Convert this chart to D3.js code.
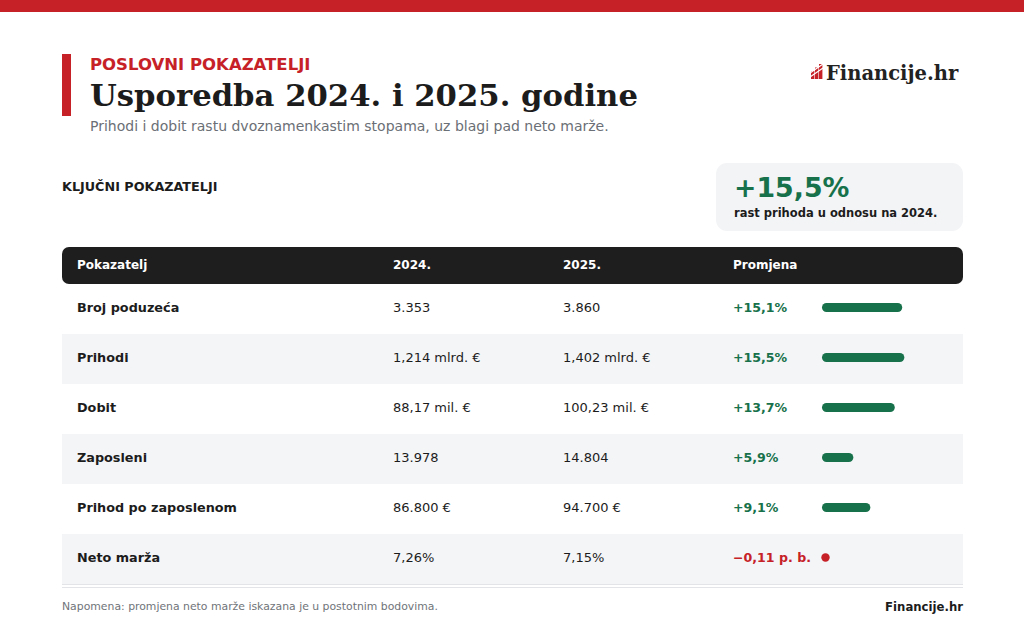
<!DOCTYPE html>
<html>
<head>
<meta charset="utf-8">
<script src="https://cdn.jsdelivr.net/npm/d3@7"></script>
<style>
  body { margin: 0; background: #fff; }
  svg { display: block; font-family: 'DejaVu Sans', sans-serif; }
</style>
</head>
<body>
<svg id="chart" width="1024" height="640"></svg>
<script>
// data
var indicators = ['Broj poduzeća', 'Prihodi', 'Dobit', 'Zaposleni', 'Prihod po zaposlenom', 'Neto marža'];
var values2024 = ['3.353', '1,214 mlrd. €', '88,17 mil. €', '13.978', '86.800 €', '7,26%'];
var values2025 = ['3.860', '1,402 mlrd. €', '100,23 mil. €', '14.804', '94.700 €', '7,15%'];
var changeLabels = ['+15,1%', '+15,5%', '+13,7%', '+5,9%', '+9,1%', '\u22120,11 p. b.'];
var changeValues = [15.1, 15.5, 13.7, 5.9, 9.1, -0.11];
var headers = ['Pokazatelj', '2024.', '2025.', 'Promjena'];

var red = '#c62127', green = '#17714a', dark = '#1c1c1c';

var svg = d3.select('#chart');

// top strip + accent
svg.append('rect').attr('x', 0).attr('y', 0).attr('width', 1024).attr('height', 12).attr('fill', red);
svg.append('rect').attr('x', 62).attr('y', 54).attr('width', 9).attr('height', 62).attr('fill', red);

svg.append('text').attr('x', 90).attr('y', 70)
	.attr('font-size', 16.5).attr('font-weight', 'bold').attr('fill', red)
	.text('POSLOVNI POKAZATELJI');
svg.append('text').attr('x', 90).attr('y', 106)
	.attr('font-family', 'DejaVu Serif, serif').attr('font-size', 30.7).attr('font-weight', 'bold').attr('fill', dark)
	.text('Usporedba 2024. i 2025. godine');
svg.append('text').attr('x', 90).attr('y', 131)
	.attr('font-size', 14).attr('fill', '#6b6f76')
	.text('Prihodi i dobit rastu dvoznamenkastim stopama, uz blagi pad neto marže.');

// logo
var logo = svg.append('g').attr('transform', 'translate(811,64)');
[[0, 7], [4, 3.5], [8, 0]].forEach(function(b) {
	logo.append('rect').attr('x', b[0]).attr('y', b[1]).attr('width', 3.4).attr('height', 15 - b[1]).attr('fill', red);
});
logo.append('path').attr('d', 'M-1 9 L12 0 M-1 13 L12 4').attr('stroke', '#fff').attr('stroke-width', 1.2);
svg.append('text').attr('x', 826).attr('y', 80)
	.attr('font-family', 'DejaVu Serif, serif').attr('font-size', 19.5).attr('font-weight', 'bold').attr('fill', '#222')
	.text('Financije.hr');

// section label
svg.append('text').attr('x', 62).attr('y', 191)
	.attr('font-size', 12.75).attr('font-weight', 'bold').attr('fill', dark)
	.text('KLJUČNI POKAZATELJI');

// KPI box
svg.append('rect').attr('x', 716).attr('y', 163).attr('width', 247).attr('height', 68).attr('rx', 11).attr('fill', '#f3f4f6');
svg.append('text').attr('x', 734).attr('y', 197)
	.attr('font-size', 26.8).attr('font-weight', 'bold').attr('fill', green)
	.text('+' + d3.format('.1f')(changeValues[1]).replace('.', ',') + '%');
svg.append('text').attr('x', 734).attr('y', 217)
	.attr('font-size', 11.5).attr('font-weight', 'bold').attr('fill', dark)
	.text('rast prihoda u odnosu na 2024.');

// table
var tableLeft = 62, tableRight = 963, headTop = 247, headH = 37, rowH = 50;
var colX = [77, 393, 563, 733];

svg.append('rect').attr('x', tableLeft).attr('y', headTop).attr('width', tableRight - tableLeft).attr('height', headH)
	.attr('rx', 7).attr('fill', '#1e1e1e');
svg.selectAll('.head').data(headers).enter().append('text')
	.attr('x', function(d, i) { return colX[i]; })
	.attr('y', headTop + 22)
	.attr('font-size', 12).attr('font-weight', 'bold').attr('fill', '#fff')
	.text(function(d) { return d; });

var yScale = d3.scaleBand().domain(indicators).range([headTop + headH, headTop + headH + rowH * indicators.length]);
var xBar = d3.scaleLinear().domain([0, 16]).range([0, 85]);

var rows = svg.selectAll('.row').data(indicators).enter().append('g')
	.attr('transform', function(d) { return 'translate(0,' + yScale(d) + ')'; });

rows.append('rect').attr('x', tableLeft).attr('width', tableRight - tableLeft).attr('height', yScale.bandwidth())
	.attr('fill', function(d, i) { return i % 2 ? '#f4f5f7' : '#fff'; });

var mid = yScale.bandwidth() / 2 + 2.5;
rows.append('text').attr('x', colX[0]).attr('y', mid)
	.attr('font-size', 12.8).attr('font-weight', 'bold').attr('fill', dark)
	.text(function(d) { return d; });
rows.append('text').attr('x', colX[1]).attr('y', mid)
	.attr('font-size', 13).attr('fill', dark)
	.text(function(d, i) { return values2024[i]; });
rows.append('text').attr('x', colX[2]).attr('y', mid)
	.attr('font-size', 13).attr('fill', dark)
	.text(function(d, i) { return values2025[i]; });
rows.append('text').attr('x', colX[3]).attr('y', mid)
	.attr('font-size', 12.6).attr('font-weight', 'bold')
	.attr('fill', function(d, i) { return changeValues[i] < 0 ? red : green; })
	.text(function(d, i) { return changeLabels[i]; });

rows.each(function(d, i) {
	var g = d3.select(this), v = changeValues[i], cy = yScale.bandwidth() / 2 - 1.5;
	if (v >= 0) {
		g.append('rect').attr('x', 822).attr('y', cy - 4.5).attr('width', xBar(v)).attr('height', 9)
			.attr('rx', 4.5).attr('fill', green);
	} else {
		g.append('circle').attr('cx', 825.5).attr('cy', cy).attr('r', 4.2).attr('fill', red);
	}
});

var tableBottom = yScale.range()[1];
svg.append('line').attr('x1', tableLeft).attr('x2', tableRight).attr('y1', tableBottom + 0.5).attr('y2', tableBottom + 0.5)
	.attr('stroke', '#e2e4e8');
svg.append('line').attr('x1', tableLeft).attr('x2', tableRight).attr('y1', tableBottom + 3.5).attr('y2', tableBottom + 3.5)
	.attr('stroke', '#e2e4e8');

// footer
svg.append('text').attr('x', 62).attr('y', 610)
	.attr('font-size', 10.85).attr('fill', '#707479')
	.text('Napomena: promjena neto marže iskazana je u postotnim bodovima.');
svg.append('text').attr('x', 963).attr('y', 611).attr('text-anchor', 'end')
	.attr('font-size', 11.7).attr('font-weight', 'bold').attr('fill', dark)
	.text('Financije.hr');
</script>
</body>
</html>
